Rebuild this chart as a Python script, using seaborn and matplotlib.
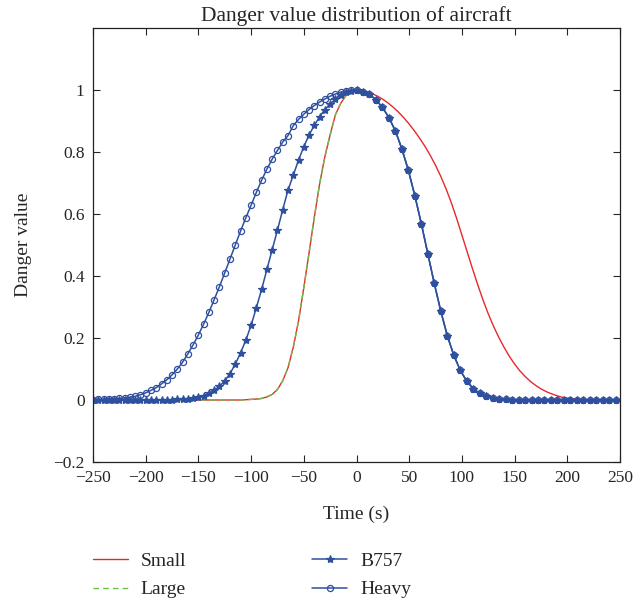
import matplotlib
matplotlib.use("Agg")
import matplotlib.pyplot as plt
import numpy as np
import pandas as pd
import seaborn as sns

# time grids (s)
t_left = np.arange(-250, 1, 5)          # rising half, 5 s steps
t_right = np.arange(1, 41) * 6.15       # falling half of the marked curves
t_small_right = np.arange(5, 251, 5)    # falling half of "Small"

heavy_left = [0.001, 0.002, 0.002, 0.003, 0.004, 0.005, 0.007, 0.009, 0.012, 0.017,
              0.023, 0.031, 0.040, 0.052, 0.065, 0.081, 0.100, 0.122, 0.149, 0.178,
              0.210, 0.245, 0.283, 0.324, 0.366, 0.410, 0.455, 0.500, 0.545, 0.588,
              0.628, 0.670, 0.709, 0.745, 0.777, 0.805, 0.832, 0.853, 0.885, 0.905,
              0.922, 0.937, 0.950, 0.961, 0.971, 0.980, 0.987, 0.993, 0.997, 0.999,
              1.000]

b757_left = [0.0, 0.0, 0.0, 0.0, 0.0, 0.0, 0.0, 0.0, 0.0, 0.0,
             0.0, 0.0, 0.0, 0.0, 0.0, 0.001, 0.002, 0.003, 0.004, 0.006,
             0.010, 0.014, 0.021, 0.031, 0.044, 0.062, 0.085, 0.116, 0.152, 0.193,
             0.241, 0.298, 0.357, 0.421, 0.485, 0.548, 0.614, 0.677, 0.725, 0.774,
             0.817, 0.855, 0.886, 0.914, 0.937, 0.955, 0.970, 0.983, 0.992, 0.998,
             1.000]

small_left = [0.0, 0.0, 0.0, 0.0, 0.0, 0.0, 0.0, 0.0, 0.0, 0.0,
              0.0, 0.0, 0.0, 0.0, 0.0, 0.0, 0.0, 0.0, 0.0, 0.0,
              0.0, 0.0, 0.0, 0.0, 0.0, 0.0, 0.0, 0.0, 0.0, 0.001,
              0.002, 0.003, 0.005, 0.010, 0.018, 0.034, 0.062, 0.104, 0.170, 0.255,
              0.362, 0.475, 0.590, 0.697, 0.785, 0.856, 0.920, 0.957, 0.982, 0.997,
              1.000]
large_left = small_left  # the two curves coincide on the rising side

# shared falling half of Large, B757 and Heavy
common_right = [0.995, 0.987, 0.968, 0.944, 0.911, 0.868, 0.810, 0.741, 0.659, 0.569,
                0.472, 0.376, 0.287, 0.208, 0.145, 0.096, 0.061, 0.037, 0.021, 0.012,
                0.007, 0.004, 0.002, 0.001, 0.0, 0.0, 0.0, 0.0, 0.0, 0.0,
                0.0, 0.0, 0.0, 0.0, 0.0, 0.0, 0.0, 0.0, 0.0, 0.0]

small_right = [0.998, 0.994, 0.988, 0.980, 0.970, 0.958, 0.944, 0.928, 0.910, 0.890,
               0.868, 0.844, 0.818, 0.789, 0.757, 0.721, 0.681, 0.636, 0.586, 0.532,
               0.478, 0.424, 0.372, 0.323, 0.278, 0.238, 0.202, 0.170, 0.141, 0.116,
               0.094, 0.076, 0.060, 0.047, 0.036, 0.027, 0.020, 0.014, 0.009, 0.006,
               0.004, 0.002, 0.001, 0.0, 0.0, 0.0, 0.0, 0.0, 0.0, 0.0]

x_ticks = [-250, -200, -150, -100, -50, 0, 50, 100, 150, 200, 250]
y_ticks = [-0.2, 0, 0.2, 0.4, 0.6, 0.8, 1.0]
y_tick_labels = ["\u22120.2", "0", "0.2", "0.4", "0.6", "0.8", "1"]
x_tick_labels = [str(v).replace("-", "\u2212") for v in x_ticks]


def series(t1, v1, t2, v2):
    return pd.DataFrame({"t": np.concatenate([t1, t2]), "v": list(v1) + list(v2)})


small = series(t_left, small_left, t_small_right, small_right)
large = series(t_left, large_left, t_right, common_right)
b757 = series(t_left, b757_left, t_right, common_right)
heavy = series(t_left, heavy_left, t_right, common_right)

sns.set_style("ticks")
plt.rcParams['font.family'] = ['Liberation Serif', 'DejaVu Serif']

blue = '#2f4f9f'
fig = plt.figure(figsize=(6.38, 6.05), dpi=100)
ax = fig.add_axes([93 / 638, 1 - 462 / 605, (620 - 93) / 638, (462 - 28) / 605])

sns.lineplot(data=small, x='t', y='v', ax=ax, color='#e8282a', lw=1.0, label='Small',
             sort=False, estimator=None)
sns.lineplot(data=large, x='t', y='v', ax=ax, color='#6cc04a', lw=1.0, label='Large',
             sort=False, estimator=None, dashes=False, linestyle=(0, (4, 3)))
sns.lineplot(data=b757, x='t', y='v', ax=ax, color=blue, lw=1.1, label='B757',
             sort=False, estimator=None, marker='*', markersize=6, markeredgewidth=0.9,
             markeredgecolor=blue, markerfacecolor=blue)
sns.lineplot(data=heavy, x='t', y='v', ax=ax, color=blue, lw=1.1, label='Heavy',
             sort=False, estimator=None, marker='o', markersize=4.4, markeredgewidth=0.9,
             markeredgecolor=blue, markerfacecolor='none')

ax.set_xlim(-250, 250)
ax.set_ylim(-0.2, 1.2)
ax.set_xticks(x_ticks)
ax.set_xticklabels(x_tick_labels)
ax.set_yticks(y_ticks)
ax.set_yticklabels(y_tick_labels)
ax.tick_params(direction='in', top=True, right=True, length=5, width=0.8,
               labelsize=12.5, pad=6)
for sp in ax.spines.values():
    sp.set_visible(True)
    sp.set_linewidth(0.9)
    sp.set_color('#222222')

ax.set_title('Danger value distribution of aircraft', fontsize=15.5, pad=5)
ax.set_xlabel('Time (s)', fontsize=14, labelpad=14)
ax.set_ylabel('Danger value', fontsize=14, labelpad=15)

handles, labels = ax.get_legend_handles_labels()
ax.get_legend().remove()
fig.legend(handles, labels, ncol=2, loc='upper left', bbox_to_anchor=(0.1328, 0.100),
           frameon=False, fontsize=14, handlelength=1.8, handletextpad=0.67,
           columnspacing=6.5, labelspacing=0.56, borderaxespad=0)

fig.savefig('out.png', dpi=100)
